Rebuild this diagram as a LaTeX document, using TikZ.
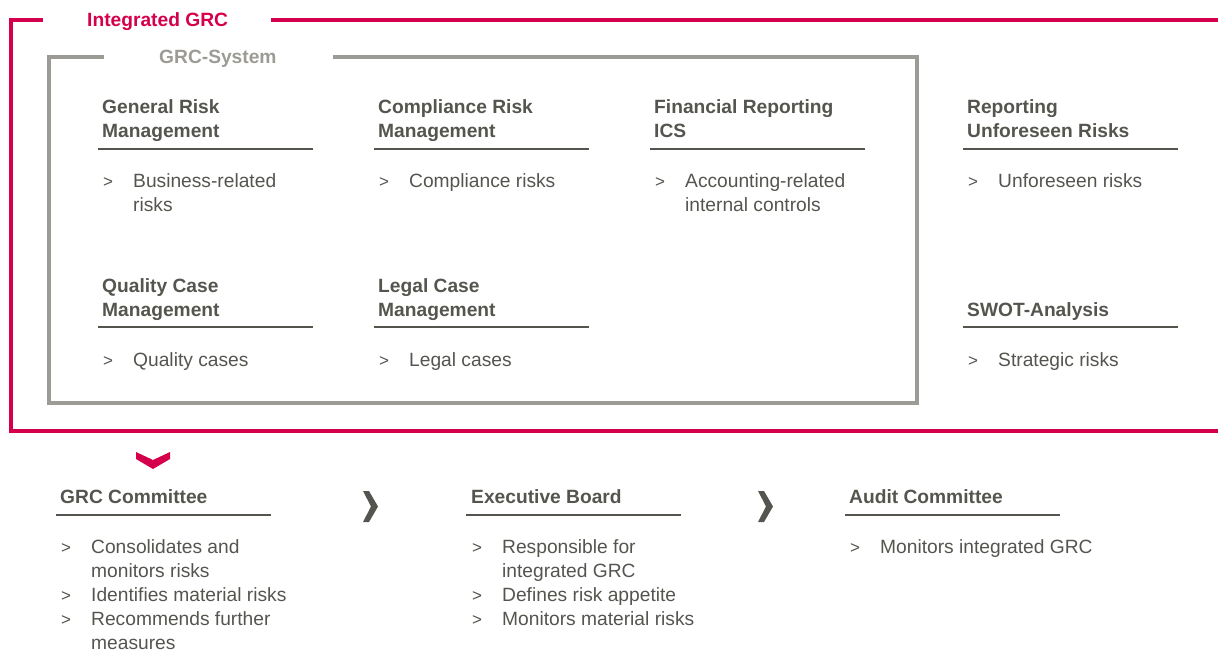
\documentclass[tikz,border=0pt]{standalone}
\usepackage{fontspec}
\setmainfont{Liberation Sans}
\definecolor{grcred}{HTML}{D5004B}
\definecolor{framegray}{HTML}{9C9B95}
\definecolor{txtgray}{HTML}{55554F}
\tikzset{
  every node/.style={inner sep=0pt, anchor=base west, text=txtgray,
    font=\fontsize{19.2}{24}\selectfont},
  head/.style={align=left, font=\bfseries\fontsize{19.2}{24}\selectfont},
  title/.style={font=\bfseries\fontsize{19.2}{24}\selectfont},
  item/.style={align=left},
  marker/.style={font=\fontsize{17}{24}\selectfont},
  redline/.style={draw=grcred, line width=4pt},
  grayline/.style={draw=framegray, line width=4pt},
  rule/.style={draw=txtgray, line width=1.5pt},
}

\begin{document}
\begin{tikzpicture}[x=1pt,y=-1pt]
      \useasboundingbox (0,0) rectangle (1218,649);
      % Frames
      \node[title, text=grcred] (igrc) at (87,26) {Integrated GRC};
      \draw[redline] (43,20) -- (11,20) -- (11,431) -- (1218,431);
      \draw[redline] (271,20) -- (1218,20);
      \node[title, text=framegray] (sys) at (159,63.5) {GRC-System};
      \draw[grayline] (104,57) -- (49,57) -- (49,403) -- (917,403) -- (917,57) -- (333,57);
      % Headings (placed at the baseline of their last line)
      \node[head] (grm) at (102,137.5) {General Risk\\Management};
      \node[head] (crm) at (378,137.5) {Compliance Risk\\Management};
      \node[head] (fri) at (654,137.5) {Financial Reporting\\ICS};
      \node[head] (rur) at (967,137.5) {Reporting\\Unforeseen Risks};
      \node[head] (qcm) at (102,316.5) {Quality Case\\Management};
      \node[head] (lcm) at (378,316.5) {Legal Case\\Management};
      \node[head] (swot) at (967,316.5) {SWOT-Analysis};
      \node[head] (com) at (60,503.5) {GRC Committee};
      \node[head] (exb) at (471,503.5) {Executive Board};
      \node[head] (aud) at (849,503.5) {Audit Committee};
      % Rules
      \foreach \x/\y in {98/149, 374/149, 650/149, 963/149, 98/327, 374/327,
                         963/327, 56/515, 466/515, 845/515}{
          \draw[rule] (\x,\y) -- ++(215,0);
        }
      % Markers
      \foreach \x/\y in {103/187.5, 379/187.5, 655/187.5, 968/187.5,
                         103/366.5, 379/366.5, 968/366.5,
                         61/553.5, 61/601.5, 61/625.5,
                         472/553.5, 472/601.5, 472/625.5, 850/553.5}{
          \node[marker] at (\x,\y) {>};
        }
      % Items
      \node[item] (grmi) at (133,211.5) {Business-related\\risks};
      \node[item] (crmi) at (409,187.5) {Compliance risks};
      \node[item] (frii) at (685,211.5) {Accounting-related\\internal controls};
      \node[item] (ruri) at (998,187.5) {Unforeseen risks};
      \node[item] (qcmi) at (133,366.5) {Quality cases};
      \node[item] (lcmi) at (409,366.5) {Legal cases};
      \node[item] (swoti) at (998,366.5) {Strategic risks};
      \node[item] (comi) at (91,649.5) {Consolidates and\\monitors risks\\Identifies material risks\\Recommends further\\measures};
      \node[item] (exbi) at (502,625.5) {Responsible for\\integrated GRC\\Defines risk appetite\\Monitors material risks};
      \node[item] (audi) at (880,553.5) {Monitors integrated GRC};
      % Chevrons
      \fill[grcred] (136,452) -- (153,460) -- (170,452) -- (170,459) -- (153,469) -- (136,459) -- cycle;
      \foreach \x in {363,758}{
          \fill[txtgray] (\x,491) -- (\x+6,491) -- (\x+15,506.5) -- (\x+6,522) -- (\x,522) -- (\x+8,506.5) -- cycle;
        }
    \end{tikzpicture}
\end{document}
